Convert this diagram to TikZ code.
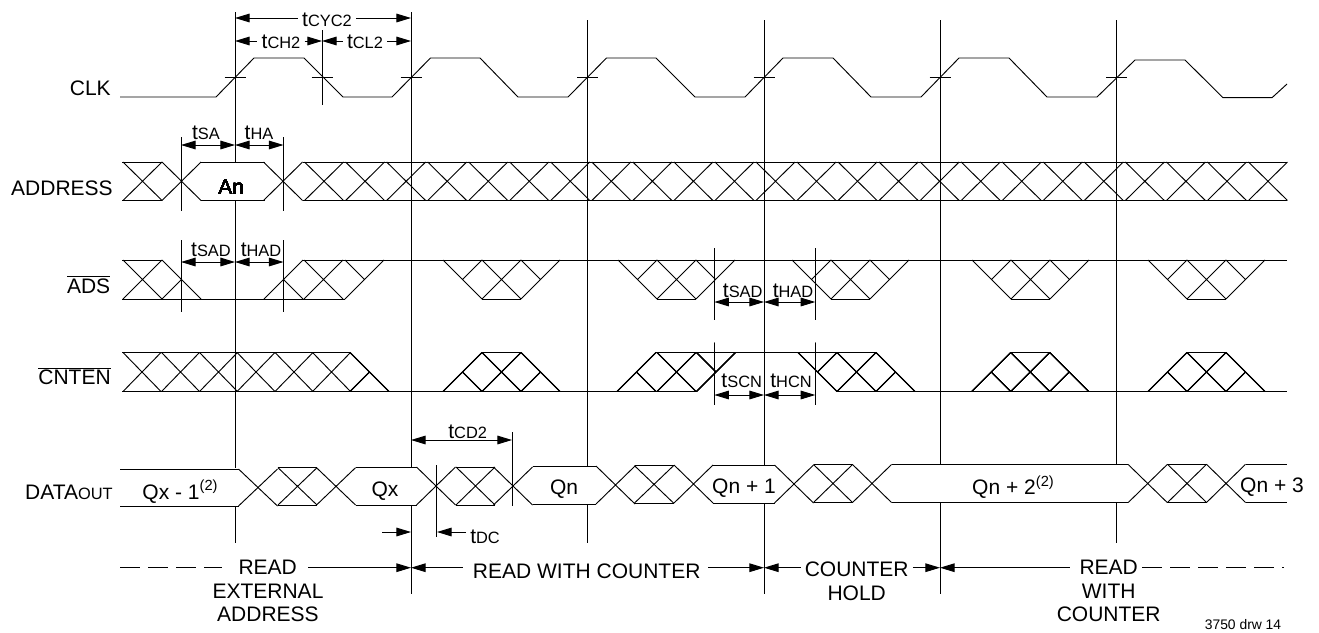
\documentclass[tikz,border=0pt]{standalone}
\usepackage{fontspec}
\setmainfont{Liberation Sans}
\usetikzlibrary{arrows.meta}

\newcommand{\wavex}[4][19.5]{\draw[wave] (#2-#1,#3) -- (#2+#1,#4) (#2-#1,#4) -- (#2+#1,#3);}
\newcommand{\edgein}[3]{\draw[wave] (#1,#2) -- (#1+39,#3) (#1+19.5,{(#2+#3)/2}) -- (#1+39,#2);}
\newcommand{\edgeout}[3]{\draw[wave] (#1,#2) -- (#1+39,#3) (#1,#3) -- (#1+19.5,{(#2+#3)/2});}
\newcommand{\waveslope}[3]{%
  \edgein{#1}{#2}{#3}
  \wavex{#1+58.5}{#2}{#3}
  \edgeout{#1+78}{#3}{#2}
  \draw[wave] (#1+39,#3) -- (#1+78,#3);}
\newcommand{\tsub}[1]{t{\fontsize{12.3}{14}\selectfont #1}}
\newcommand{\noteref}{\raisebox{6.5pt}{\fontsize{11}{12}\selectfont (2)}}

\tikzset{
  wave/.style={line width=.7pt},
  clockline/.style={line width=.75pt},
  tickline/.style={line width=.7pt},
  dimline/.style={line width=.7pt},
  siglab/.style={anchor=east, inner sep=0pt},
  tlab/.style={inner sep=3pt},
  phaselab/.style={inner sep=3pt},
  >={Triangle[length=11pt,width=6.5pt]},
  every node/.style={font=\fontsize{15.75}{17.6}\selectfont}
}

\begin{document}
\begin{tikzpicture}[x=.75pt,y=-.75pt]
    \useasboundingbox (0,0) rectangle (1319,632);

    \foreach \vx/\vstart/\vstop/\vnext/\vend in {235.5/12/162/200.5/468,411.5/12/467/505/594,587.5/20/466.7/504/543,764.5/20/465/503/594,940.5/20/464.5/502.5/594,1116.5/20/464.5/502.5/543}
        \draw[clockline] (\vx,\vstart) -- (\vx,\vstop) (\vx,\vnext) -- (\vx,\vend);
    \draw[clockline] (235.5,506) -- (235.5,543);
    \draw[tickline] (322,30) -- (322,105);

    \node[siglab] (clklab) at (111,88) {CLK};
    \draw[wave] (120,97) -- (216,97) -- (254,58) -- (304,58) -- (343,97) -- (392,97) -- (430.5,58) -- (480,58) -- (518,97) -- (568,97) -- (606.5,58) -- (656,58) -- (695,97) -- (745,97) -- (783,58) -- (833,58) -- (871,97) -- (921,97) -- (959,58) -- (1009,58) -- (1047,97) -- (1097,97) -- (1135,60) -- (1185,60) -- (1223,97.7) -- (1272,97.7) -- (1287,84);
    \foreach \vx in {235,322,411,587.7,764,940,1116.5}
        \draw[tickline] (\vx-10.5,77) -- (\vx+10.5,77);

    \node[siglab] (addrlab) at (113,188) {ADDRESS};
    \wavex{142.5}{162}{200.5}
    \wavex{181.5}{162}{200.5}
    \draw[wave] (122,162) -- (162,162) (122,200.5) -- (162,200.5);
    \draw[wave] (201,162) -- (265,162) (201,200.5) -- (265,200.5);
    \draw[wave] (303,162) -- (1287,162) (303,200.5) -- (1287,200.5);
    \foreach \k in {0,...,24}
        \wavex{283+41.04*\k}{162}{200.5}
    \node (anlab) at (231.2,187) {An};
    \draw[tickline] (181,137) -- (181,211) (283.5,137) -- (283.5,211);

    \node[siglab] (adslab) at (110.5,284.5) {$\overline{\mbox{ADS}}$};
    \draw[wave] (122,260) -- (162,260) (303,260) -- (1287,260) (122,299) -- (345,299);
    \wavex{142.5}{260}{299}
    \edgeout{162}{260}{299}
    \edgein{264}{299}{260}
    \wavex{323.5}{260}{299}
    \edgeout{345}{299}{260}
    \foreach \a in {443,618,792,972,1148}
        \waveslope{\a}{260}{299}
    \draw[tickline] (181,240) -- (181,312) (283.5,240) -- (283.5,312);
    \draw[tickline] (714.3,248) -- (714.3,320) (815.3,248) -- (815.3,320);

    \node[siglab] (cntenlab) at (111,376) {$\overline{\mbox{CNTEN}}$};
    \draw[wave] (122,352.5) -- (350,352.5) (656,352.5) -- (875,352.5) (122,391.5) -- (696.5,391.5) (837,391.5) -- (1287,391.5);
    \foreach \c in {142,180.5,218.5,256,294,331.5}
        \wavex[19]{\c}{352.5}{391.5}
    \edgeout{350}{352.5}{391.5}
    \edgein{617}{391.5}{352.5}
    \wavex{676.5}{352.5}{391.5}
    \edgeout{696.5}{391.5}{352.5}
    \edgein{798}{352.5}{391.5}
    \wavex{856.5}{352.5}{391.5}
    \edgeout{876}{352.5}{391.5}
    \foreach \a in {443,971.7,1148}
        \waveslope{\a}{391.5}{352.5}
    \draw[tickline] (714.3,342.7) -- (714.3,405) (815.3,342.7) -- (815.3,405);

    \node[siglab] (datalab) at (113,492.7) {DATA{\fontsize{12.3}{14}\selectfont OUT}};
    \draw[wave] (120,469) -- (238.5,469) (120,506) -- (238.5,506);
    \wavex{258}{469}{506}
    \wavex{297.5}{467.7}{505}
    \wavex{336}{467.7}{505}
    \draw[wave] (278,467.7) -- (317,467.7) (278,505) -- (317,505);
    \draw[wave] (355.5,467.7) -- (417,467.7) (355.5,505) -- (417,505);
    \wavex{436}{467}{505}
    \wavex{475.5}{467}{505}
    \wavex{513}{467}{505}
    \draw[wave] (456,467) -- (494.5,467) (456,505) -- (494.5,505);
    \draw[wave] (532.5,466.7) -- (596,466.7) (532.5,504) -- (596,504);
    \wavex{615.5}{466}{504}
    \wavex{654}{465.7}{503}
    \wavex{693.5}{465}{503}
    \draw[wave] (635,465.7) -- (673.5,465.7) (635,503) -- (673.5,503);
    \draw[wave] (713,465) -- (775,465) (713,503) -- (775,503);
    \wavex{794}{465}{503}
    \wavex{833}{464.5}{502.5}
    \wavex{872}{464.5}{502.5}
    \draw[wave] (813.5,464.5) -- (852.5,464.5) (813.5,502.5) -- (852.5,502.5);
    \draw[wave] (891.5,464.5) -- (1128.2,464.5) (891.5,502.5) -- (1128.2,502.5);
    \wavex{1147.7}{464.5}{502.5}
    \wavex{1187}{464.3}{502.5}
    \wavex{1226}{464.3}{502.5}
    \draw[wave] (1167.2,464.3) -- (1206.5,464.3) (1167.2,502.5) -- (1206.5,502.5);
    \draw[wave] (1245.5,464.3) -- (1287,464.3) (1245.5,502.5) -- (1287,502.5);
    \draw[tickline] (436,465) -- (436,536.7) (512,432) -- (512,506);

    \node (qxm) at (180,491.7) {Qx - 1\noteref};
    \node (qx) at (385,491) {Qx};
    \node (qn) at (564,489) {Qn};
    \node (qna) at (744,487.7) {Qn + 1};
    \node (qnb) at (1013,487) {Qn + 2\noteref};
    \node (qnc) at (1272,487) {Qn + 3};

    \coordinate (cyca) at (235,18);
    \coordinate (cycb) at (411,18);
    \node[tlab] (tcyc) at (327,20) {\tsub{CYC2}};
    \draw[dimline,<-] (cyca) -- (tcyc.west |- cyca);
    \draw[dimline,->] (tcyc.east |- cyca) -- (cycb);
    \coordinate (cha) at (235,41);
    \coordinate (chb) at (322,41);
    \coordinate (clb) at (411,41);
    \node[tlab] (tch) at (281,42) {\tsub{CH2}};
    \node[tlab] (tcl) at (365,42) {\tsub{CL2}};
    \draw[dimline,<-] (cha) -- (tch.west |- cha);
    \draw[dimline,->] (tch.east |- cha) -- (chb);
    \draw[dimline,<-] (chb) -- (tcl.west |- chb);
    \draw[dimline,->] (tcl.east |- chb) -- (clb);

    \coordinate (saa) at (181,145);
    \coordinate (sab) at (235,145);
    \coordinate (hab) at (283.5,145);
    \node[tlab] (tsa) at (206,133) {\tsub{SA}};
    \node[tlab] (tha) at (259,133) {\tsub{HA}};
    \draw[dimline,<->] (saa) -- (sab);
    \draw[dimline,<->] (sab) -- (hab);

    \coordinate (sada) at (181,262);
    \coordinate (sadb) at (235,262);
    \coordinate (hadb) at (283.5,262);
    \node[tlab] (tsad) at (211,250) {\tsub{SAD}};
    \node[tlab] (thad) at (261,250) {\tsub{HAD}};
    \draw[dimline,<->] (sada) -- (sadb);
    \draw[dimline,<->] (sadb) -- (hadb);

    \coordinate (sadc) at (714.3,302);
    \coordinate (sadd) at (764,302);
    \coordinate (hadd) at (815.3,302);
    \node[tlab] (tsadr) at (742.7,291) {\tsub{SAD}};
    \node[tlab] (thadr) at (793,291) {\tsub{HAD}};
    \draw[dimline,<->] (sadc) -- (sadd);
    \draw[dimline,<->] (sadd) -- (hadd);

    \coordinate (scna) at (714.3,395);
    \coordinate (scnb) at (764,395);
    \coordinate (hcnb) at (815.3,395);
    \node[tlab] (tscn) at (741.7,381) {\tsub{SCN}};
    \node[tlab] (thcn) at (791,381) {\tsub{HCN}};
    \draw[dimline,<->] (scna) -- (scnb);
    \draw[dimline,<->] (scnb) -- (hcnb);

    \coordinate (cda) at (411,440);
    \coordinate (cdb) at (512,440);
    \node[tlab] (tcd) at (467.7,432) {\tsub{CD2}};
    \draw[dimline,<->] (cda) -- (cdb);

    \coordinate (dca) at (382,532);
    \coordinate (dcb) at (411,532);
    \coordinate (dcc) at (437,532);
    \node[tlab,anchor=west] (tdc) at (466,537) {\tsub{DC}};
    \draw[dimline,->] (dca) -- (dcb);
    \draw[dimline,->] (tdc.west |- dcc) -- (dcc);

    \coordinate (dashl) at (120,567.7);
    \coordinate (dashm) at (222,567.7);
    \coordinate (readl) at (308,567.7);
    \coordinate (phasea) at (411,567.7);
    \coordinate (cntl) at (463,567.7);
    \coordinate (cntr) at (708,567.7);
    \coordinate (phaseb) at (764,567.7);
    \coordinate (phasec) at (940,567.7);
    \coordinate (readr) at (1070,567.7);
    \coordinate (dashr) at (1284,567.7);

    \node[phaselab] (rdext) at (267.7,567.7) {READ};
    \node[inner sep=0pt] (rdexta) at (268,591) {EXTERNAL};
    \node[inner sep=0pt] (rdextb) at (268,614) {ADDRESS};
    \draw[wave,dash pattern=on 15pt off 6pt] (dashl) -- (dashm);
    \draw[dimline,->] (readl) -- (phasea);

    \node[phaselab] (rdcnt) at (586.7,571.5) {READ WITH COUNTER};
    \draw[dimline,<-] (phasea) -- (cntl);
    \draw[dimline,->] (cntr) -- (phaseb);

    \node[phaselab] (cnthold) at (856.7,569) {COUNTER};
    \node[inner sep=0pt] (cntholda) at (856.7,593) {HOLD};
    \draw[dimline,<-] (phaseb) -- (cnthold.west |- phaseb);
    \draw[dimline,->] (cnthold.east |- phaseb) -- (phasec);

    \node[phaselab] (rdwith) at (1108.7,567.7) {READ};
    \node[inner sep=0pt] (rdwitha) at (1108.7,591) {WITH};
    \node[inner sep=0pt] (rdwithb) at (1108.7,614) {COUNTER};
    \draw[dimline,<-] (phasec) -- (readr);
    \draw[wave,dash pattern=on 15pt off 6pt] (rdwith.east) -- (dashr);

    \node[inner sep=0pt,font=\fontsize{10.4}{12}\selectfont] (drwlab) at (1243,625) {3750 drw 14};
\end{tikzpicture}
\end{document}
